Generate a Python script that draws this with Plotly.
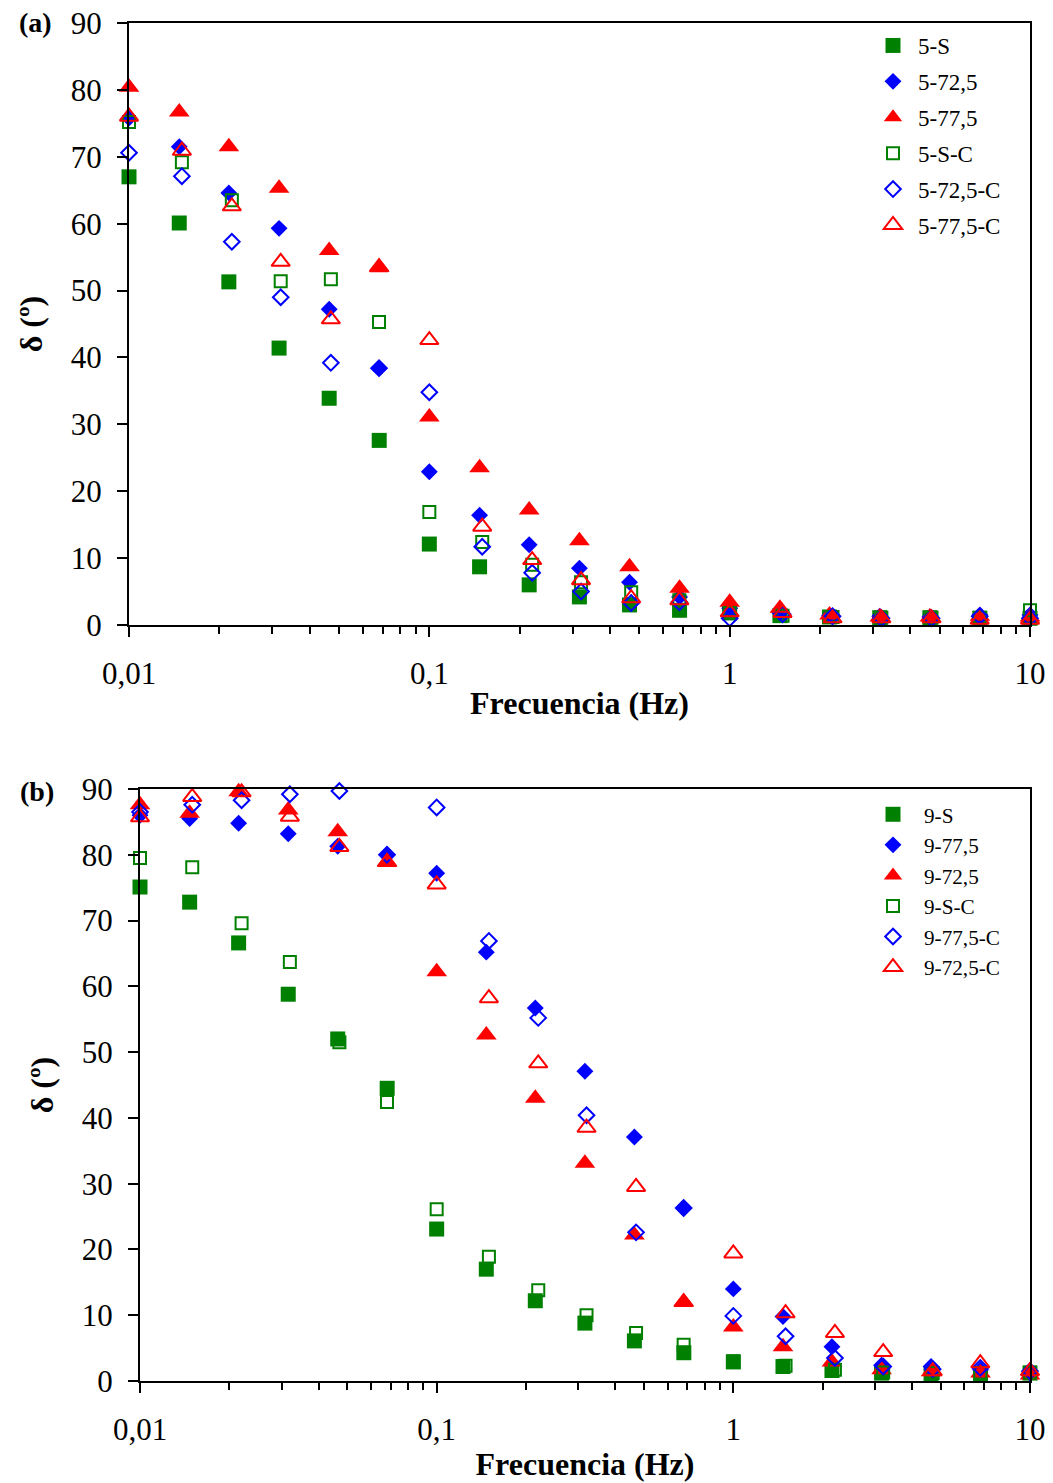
import plotly.graph_objects as go

# Frequencies (Hz) of the sweep; the "-C" runs were logged at rounded values
freq = [0.01, 0.0147, 0.0215, 0.0316, 0.0464, 0.0681, 0.1, 0.147, 0.215, 0.316,
        0.464, 0.681, 1, 1.47, 2.15, 3.16, 4.64, 6.81, 10]
freq_c = [0.01, 0.015, 0.022, 0.032, 0.047, 0.068, 0.1, 0.15, 0.22, 0.32,
          0.47, 0.68, 1, 1.5, 2.2, 3.2, 4.7, 6.8, 10]

# Phase angle delta (degrees) - panel (a)
a_names = ["5-S", "5-72,5", "5-77,5", "5-S-C", "5-72,5-C", "5-77,5-C"]
a_5S = [67.0, 60.1, 51.3, 41.4, 33.9, 27.6, 12.1, 8.7, 6.0, 4.2, 3.0, 2.2, 1.8, 1.4, 1.2, 1.1, 1.1, 1.0, 1.0]
a_5_725 = [75.8, 71.5, 64.6, 59.3, 47.2, 38.4, 22.9, 16.4, 12.0, 8.5, 6.4, 4.2, 2.5, 1.8, 1.4, 1.3, 1.2, 1.5, 1.5]
a_5_775 = [80.4, 76.7, 71.5, 65.3, 56.0, 53.5, 31.1, 23.5, 17.2, 12.6, 8.7, 5.5, 3.4, 2.5, 1.5, 1.2, 1.2, 1.3, 1.2]
a_5SC = [75.2, 69.2, 63.5, 51.4, 51.7, 45.3, 16.9, 12.4, 9.0, 6.4, 4.9, 3.7, 1.8, 1.4, 1.2, 1.1, 1.1, 1.1, 2.2]
a_5_725C = [70.6, 67.1, 57.3, 49.0, 39.2, 38.4, 34.8, 11.7, 7.8, 5.0, 3.3, 3.4, 1.0, 1.6, 1.3, 1.0, 1.0, 1.3, 1.0]
a_5_775C = [76.0, 70.9, 62.6, 54.3, 45.7, 53.5, 42.6, 14.7, 9.7, 6.7, 4.0, 3.7, 1.9, 1.8, 1.0, 1.0, 1.0, 0.8, 0.8]

# Phase angle delta (degrees) - panel (b)
b_names = ["9-S", "9-77,5", "9-72,5", "9-S-C", "9-77,5-C", "9-72,5-C"]
b_9S = [75.1, 72.8, 66.6, 58.8, 52.0, 44.5, 23.1, 17.0, 12.2, 8.8, 6.1, 4.3, 2.9, 2.2, 1.6, 1.2, 1.1, 1.1, 1.2]
b_9_775 = [86.0, 85.5, 84.8, 83.2, 81.3, 80.0, 77.2, 65.2, 56.7, 47.1, 37.1, 26.3, 14.0, 9.8, 5.2, 2.4, 2.2, 1.7, 1.2]
b_9_725 = [87.6, 86.3, 89.6, 86.8, 83.5, 78.9, 62.2, 52.6, 43.0, 33.1, 22.2, 12.0, 8.2, 5.2, 2.9, 1.7, 1.4, 1.2, 0.9]
b_9SC = [79.5, 78.1, 69.6, 63.7, 51.5, 42.4, 26.1, 18.9, 13.8, 10.0, 7.3, 5.5, 3.0, 2.3, 1.7, 1.3, 1.2, 1.2, 1.3]
b_9_775C = [86.5, 87.6, 88.3, 89.2, 89.7, 80.0, 87.2, 66.9, 55.2, 40.4, 22.6, 26.3, 9.9, 6.8, 3.5, 2.2, 1.8, 2.0, 1.5]
b_9_725C = [85.7, 88.8, 89.5, 85.8, 81.2, 78.9, 75.5, 58.2, 48.3, 38.5, 29.5, 12.0, 19.4, 10.3, 7.3, 4.4, 1.5, 2.7, 1.5]

x_tickvals = [0.01, 0.1, 1, 10]
x_ticktext = ["0,01", "0,1", "1", "10"]
y_tickvals = list(range(0, 91, 10))

GREEN, BLUE, RED = "#008000", "#0000FF", "#FF0000"
FONT = "Times New Roman, Liberation Serif, serif"

# marker style per series slot: (symbol, colour, size, line width)
styles = [
    ("square", GREEN, 15, 0),
    ("diamond", BLUE, 13, 0),
    ("triangle-up", RED, 18, 0),
    ("square-open", GREEN, 12, 2),
    ("diamond-open", BLUE, 12, 2),
    ("triangle-up-open", RED, 16, 2),
]

fig = go.Figure()


def add_panel(names, series, xa, ya, legend):
    for i, (name, ys) in enumerate(zip(names, series)):
        sym, col, size, lw = styles[i]
        xs = freq if i < 3 else freq_c
        fig.add_trace(go.Scatter(
            x=xs, y=ys, name=name, mode="markers",
            xaxis=xa, yaxis=ya, legend=legend, legendgroup=legend + name,
            cliponaxis=False,
            marker=dict(symbol=sym, color=col, size=size,
                        line=dict(color=col, width=lw)),
        ))


add_panel(a_names, [a_5S, a_5_725, a_5_775, a_5SC, a_5_725C, a_5_775C], "x", "y", "legend")
add_panel(b_names, [b_9S, b_9_775, b_9_725, b_9SC, b_9_775C, b_9_725C], "x2", "y2", "legend2")

# minor tick positions on the log axis
minor_vals = [m * 10 ** e for e in (-2, -1, 0) for m in range(2, 10)]

H = 1483.0
W = 1053.0


def xaxis(dom, anchor, standoff):
    return dict(
        type="log", range=[-2, 1], domain=dom, anchor=anchor, automargin=False,
        tickvals=x_tickvals, ticktext=x_ticktext,
        ticks="outside", ticklen=10, tickwidth=2, tickcolor="black",
        ticklabelstandoff=10,
        minor=dict(tickvals=minor_vals, ticks="outside", ticklen=7,
                   tickwidth=2, tickcolor="black", showgrid=False),
        showline=True, linecolor="black", linewidth=2, mirror=True,
        showgrid=False, zeroline=False,
        tickfont=dict(family=FONT, size=31, color="black"),
        title=dict(text="Frecuencia (Hz)", standoff=standoff,
                   font=dict(family=FONT, size=32, color="black", weight="bold")),
    )


def yaxis(dom, anchor):
    return dict(
        range=[0, 90], domain=dom, anchor=anchor, automargin=False,
        tickvals=y_tickvals, ticks="outside", ticklen=10, tickwidth=2,
        tickcolor="black", ticklabelstandoff=9,
        showline=True, linecolor="black", linewidth=2, mirror=True,
        showgrid=False, zeroline=False,
        tickfont=dict(family=FONT, size=31, color="black"),
        title=dict(text="δ (º)", standoff=19,
                   font=dict(family=FONT, size=32, color="black", weight="bold")),
    )


fig.update_layout(
    width=1053, height=1483,
    margin=dict(l=0, r=0, t=0, b=0, autoexpand=False),
    paper_bgcolor="white", plot_bgcolor="white",
    font=dict(family=FONT, color="black"),
    xaxis=xaxis([129 / W, 1030 / W], "y", 1),
    yaxis=yaxis([1 - 625 / H, 1 - 23 / H], "x"),
    xaxis2=xaxis([140 / W, 1030 / W], "y2", 6),
    yaxis2=yaxis([1 - 1381 / H, 1 - 789 / H], "x2"),
    legend=dict(x=868 / W, y=1 - 24 / H, xanchor="left", yanchor="top",
                bgcolor="rgba(0,0,0,0)", font=dict(family=FONT, size=23, color="black"),
                tracegroupgap=3, itemsizing="trace", itemwidth=40),
    legend2=dict(x=862 / W, y=1 - 794 / H, xanchor="left", yanchor="top",
                 bgcolor="rgba(0,0,0,0)", font=dict(family=FONT, size=21.2, color="black"),
                 tracegroupgap=0, itemsizing="trace", itemwidth=52),
    annotations=[
        dict(text="(a)", x=17 / W, y=1 - 23 / H, xref="paper", yref="paper",
             xanchor="left", yanchor="middle", showarrow=False,
             font=dict(family=FONT, size=28, color="black", weight="bold")),
        dict(text="(b)", x=18 / W, y=1 - 791 / H, xref="paper", yref="paper",
             xanchor="left", yanchor="middle", showarrow=False,
             font=dict(family=FONT, size=28, color="black", weight="bold")),
    ],
)

fig.write_html("out.html")
